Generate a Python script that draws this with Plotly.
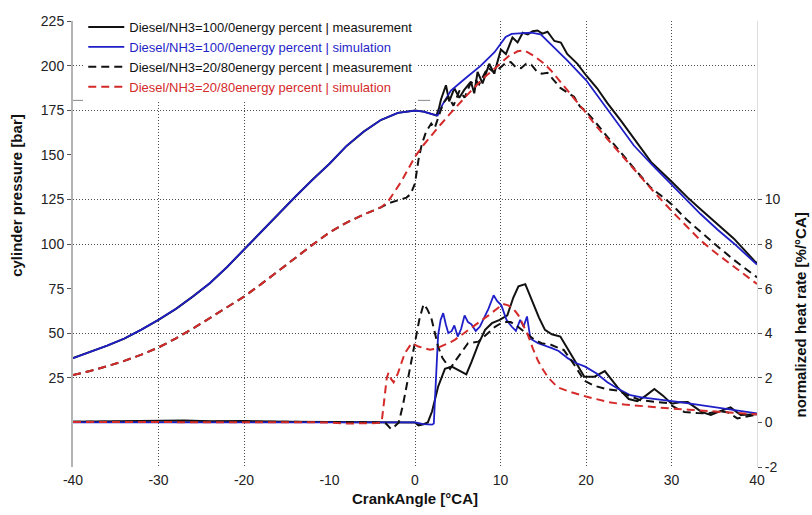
import plotly.graph_objects as go

# ---------------- data ----------------
x_ticks = [-40, -30, -20, -10, 0, 10, 20, 30, 40]
x_tick_labels = ["-40", "-30", "-20", "-10", "0", "10", "20", "30", "40"]
p_ticks = [25, 50, 75, 100, 125, 150, 175, 200, 225]
hr_ticks = [-2, 0, 2, 4, 6, 8, 10]
hr_tick_labels = ["-2", "0", "2", "4", "6", "8", "10"]
x_grid = [-30, -20, 0, 10, 20, 30]
p_grid = [25, 50, 100, 125, 175, 200]

names = [
    "Diesel/NH3=100/0energy percent | measurement",
    "Diesel/NH3=100/0energy percent | simulation",
    "Diesel/NH3=20/80energy percent | measurement",
    "Diesel/NH3=20/80energy percent | simulation",
]

# cylinder pressure [bar]
ca_p100_meas = [-40, -38, -36, -34, -32, -30, -28, -26, -24, -22, -20, -18, -16, -14, -12, -10, -8, -6, -4, -2, 0, 1, 2, 2.5,
                2.8, 3.04, 3.62, 4.0, 4.6, 5.18, 5.76, 6.54, 6.93, 7.32, 7.9, 8.68, 9.26, 10.05, 10.63, 11.4, 12.0, 12.6,
                13.2, 13.75, 14.33, 14.9, 15.5, 16.3, 17.06, 17.8, 19.0, 20.0, 21.3, 22.5, 24.1, 25.6, 27.6, 30.0, 31.9,
                33.4, 35.4, 37.3, 39.8, 40]
p100_meas = [36, 39.5, 43, 47, 52, 57.5, 63.5, 70.5, 78, 87, 97, 107, 117, 126.5, 136, 145, 155, 163, 169.5, 173.5, 174.8, 174.2, 172.8, 172,
             176, 181, 189, 180, 187.3, 182, 186.4, 191, 184.5, 196.4, 190, 201, 195.5, 209, 206.5, 215.7, 213, 218.4,
             217.5, 219.3, 219.7, 217.9, 219, 213.8, 212.9, 206.5, 201, 194.6, 187.3, 179, 169, 158.9, 146, 135, 126,
             119.5, 111.3, 103, 90, 89.3]

ca_p100_sim = [-40, -38, -36, -34, -32, -30, -28, -26, -24, -22, -20, -18, -16, -14, -12, -10, -8, -6, -4, -2, 0, 1, 2, 2.5,
               2.65, 3.2, 4.2, 5.8, 7.7, 9.3, 10.0, 10.6, 11.3, 12.5, 13.6, 14.7, 15.9, 17.8, 20.0, 22.5, 25.6, 27.8,
               30.0, 33.4, 35.4, 37.3, 39.8, 40]
p100_sim = [36, 39.5, 43, 47, 52, 57.5, 63.5, 70.5, 78, 87, 97, 107, 117, 126.5, 136, 145, 155, 163, 169.5, 173.5, 174.8, 174.2, 172.8, 172,
            172, 178, 186, 192.5, 200, 207.5, 212, 216, 217.8, 218.3, 218.5, 217.5, 212, 202.9, 191.9, 175.4, 155.2, 144,
            133.2, 116.8, 108, 100.3, 89.3, 88.5]

ca_p2080_meas = [-40, -38, -36, -34, -32, -30, -28, -26, -24, -22, -20, -18, -16, -14, -12, -10, -8, -6, -4, -3, -2, -1,
                 -0.5, 0, 0.4, 0.8, 1.3, 1.9, 2.3, 2.7, 3.3, 3.9, 4.5, 5.2, 5.8, 6.4, 7.0, 7.5, 8.5, 9.3, 10.0, 10.6, 11.2,
                 11.8, 12.4, 13.0, 13.6, 14.2, 14.8, 15.5, 16.2, 17.0, 17.8, 18.6, 19.3, 20.0, 20.8, 21.7, 22.6, 23.7,
                 24.6, 25.6, 26.6, 27.6, 28.8, 30.0, 31.7, 33.4, 35.3, 37.3, 39.8, 40]
p2080_meas = [26.6, 28.8, 31.5, 34.5, 38, 42, 47, 52.5, 58.5, 64.5, 70.5, 77.5, 85, 92, 99.5, 106.5, 112, 116.5, 120.5, 123, 124.5, 126,
              128, 134, 147, 156, 163, 167.5, 165, 171, 179, 182.5, 177.5, 186, 182, 189, 192.5, 189.5, 199, 196, 199, 201.5, 202,
              199, 198.5, 201, 200.5, 197, 195.5, 196, 192, 187.5, 185, 182.5, 177, 174.5, 170, 164.5, 159.5, 153.5,
              148, 142.5, 137, 131.5, 127, 122.3, 114, 106.7, 99, 91.1, 82, 81.3]

ca_p2080_sim = [-40, -38, -36, -34, -32, -30, -28, -26, -24, -22, -20, -18, -16, -14, -12, -10, -8, -6, -4,
                -3.2, -2.4, -1.6, -0.8, 0, 1, 2, 3, 4, 5, 6, 7, 8, 9, 10, 11, 12, 12.8, 13.9, 15, 15.9, 17, 17.8, 19,
                20, 21.2, 22.5, 24, 25.6, 27.8, 30, 31.7, 33.4, 35.3, 37.3, 39.8, 40]
p2080_sim = [26.6, 28.8, 31.5, 34.5, 38, 42, 47, 52.5, 58.5, 64.5, 70.5, 77.5, 85, 92, 99.5, 106.5, 112, 116.5, 120.5,
             123.5, 129, 135, 142, 149, 155.5, 161.5, 167, 172.5, 178, 183, 188, 193, 197, 201.5, 205.5, 208, 208.5, 205.5, 201.5, 197.3, 191, 186.3, 179.5,
             173.5, 166, 158.9, 150.5, 142.4, 130, 118.6, 110, 102, 94.5, 87.5, 78.3, 77.6]

# normalized heat rate [%/°CA]
ca_hr100_meas = [-40, -35, -30, -27, -24, -20, -15, -10, -5, 0, 0.4, 1.0, 1.5, 2.0, 2.7, 3.5, 4.3, 5.0, 6.0, 6.6, 7.4, 8.2,
                 9.0, 9.9, 10.8, 11.5, 12.1, 12.9, 13.8, 14.5, 15.2, 16.0, 17.0, 17.9, 18.8, 19.8, 21.0, 22.2, 23.7, 25.0,
                 26.0, 27.0, 28.0, 29.0, 30.0, 31.0, 31.9, 33.5, 34.6, 36.0, 36.9, 38.1, 39.6, 40]
hr100_meas = [0.03, 0.04, 0.06, 0.08, 0.05, 0.06, 0.03, 0.03, 0.02, 0.0, -0.13, -0.08, 0.0, 0.5, 1.6, 2.4, 2.5, 2.35, 2.15, 2.7, 3.5, 4.15,
              4.45, 4.6, 4.8, 5.6, 6.1, 6.2, 5.35, 4.7, 4.15, 3.95, 3.85, 3.3, 2.7, 2.05, 2.05, 2.3, 1.57, 1.05,
              0.95, 1.2, 1.5, 1.2, 0.84, 0.9, 0.91, 0.47, 0.33, 0.55, 0.67, 0.33, 0.33, 0.36]

ca_hr100_sim = [-40, -30, -20, -10, -5, 0, 1.0, 2.0, 2.2, 2.4, 2.7, 3.0, 3.3, 3.6, 3.9, 4.3, 4.6, 5.0, 5.4, 5.8, 6.2, 6.6,
                7.1, 7.6, 8.1, 8.6, 9.2, 9.6, 10.1, 10.7, 11.3, 11.8, 12.3, 12.7, 13.1, 13.5, 14.4, 15.2, 16.0, 16.8,
                17.9, 18.9, 19.9, 21.2, 22.5, 23.8, 25.2, 26.5, 28.0, 29.5, 31.0, 32.6, 34.2, 35.8, 37.3, 38.5, 40.0]
hr100_sim = [0.0, 0.0, 0.0, 0.0, 0.0, 0.0, -0.08, -0.1, -0.05, 1.8, 3.9, 4.6, 4.9, 4.4, 4.0, 4.1, 4.35, 3.85, 4.2, 4.8, 4.5, 4.4,
             4.1, 4.3, 4.7, 5.1, 5.7, 5.45, 5.25, 4.6, 4.3, 4.1, 4.6, 4.3, 4.75, 3.75, 3.55, 3.45, 3.33, 3.2,
             2.87, 2.65, 2.5, 2.2, 1.8, 1.5, 1.22, 1.12, 1.06, 0.98, 0.91, 0.82, 0.73, 0.65, 0.58, 0.48, 0.4]

ca_hr2080_meas = [-40, -30, -20, -10, -4, -3.4, -2.8, -2.3, -1.9, -1.4, -1.0, -0.5, -0.1, 0.5, 1.0, 1.4, 1.9, 2.3, 2.7,
                  3.2, 3.7, 4.1, 4.6, 5.2, 6.2, 7.4, 8.5, 9.4, 10.3, 11.2, 12.0, 12.8, 14.0, 14.8, 15.9, 17.0, 17.4,
                  18.6, 19.8, 20.9, 22.3, 23.7, 25.0, 26.4, 28.0, 29.5, 30.5, 31.5, 33.0, 34.2, 35.5, 36.6, 37.7, 38.6,
                  39.6, 40.0]
hr2080_meas = [0.03, 0.04, 0.03, 0.02, 0.0, -0.05, -0.3, -0.15, 0.0, 0.8, 1.6, 2.7, 3.5, 4.6, 5.3, 5.1, 4.7, 4.0, 3.4,
               2.9, 2.6, 2.4, 2.7, 3.0, 3.55, 3.62, 4.0, 4.3, 4.5, 4.5, 4.3, 4.05, 3.7, 3.55, 3.48, 3.3, 3.25,
               2.6, 1.87, 1.65, 1.5, 1.43, 1.2, 0.99, 0.92, 0.87, 0.65, 0.47, 0.42, 0.4, 0.5, 0.45, 0.18, 0.25,
               0.33, 0.35]

ca_hr2080_sim = [-40, -30, -20, -10, -8, -6, -4.5, -3.9, -3.6, -3.3, -3.1, -2.8, -2.5, -2.0, -1.2, -0.4, 0.4, 1.0, 1.75,
                 2.4, 3.1, 3.9, 4.65, 5.4, 6.2, 7.0, 7.8, 8.6, 9.3, 10.3, 10.9, 11.5, 12.1, 12.6, 13.2, 13.8, 14.4,
                 15.0, 15.6, 16.7, 18.3, 20.0, 22.5, 24.5, 26.4, 28.2, 30.0, 32.0, 34.2, 36.5, 38.5, 40.0]
hr2080_sim = [0.02, 0.02, 0.02, 0.0, -0.05, -0.05, -0.03, 0.0, 1.0, 2.0, 2.23, 1.95, 1.8, 2.2, 3.1, 3.55, 3.4, 3.35, 3.26,
              3.3, 3.4, 3.55, 3.7, 3.9, 4.14, 4.35, 4.58, 4.8, 5.02, 5.31, 5.25, 5.1, 4.8, 4.4, 3.92, 3.3, 2.75,
              2.35, 2.0, 1.57, 1.35, 1.16, 0.92, 0.8, 0.73, 0.66, 0.62, 0.57, 0.52, 0.45, 0.4, 0.36]

# ---------------- styling ----------------
FONT = "Liberation Sans, Arial, sans-serif"
BLACK = "#111111"
BLUE = "#1f1fc8"
RED = "#d42a2a"
DASH = "8px,5px"
GRID = "#4a4a4a"

series = [
    (ca_p100_meas, p100_meas, ca_hr100_meas, hr100_meas, BLACK, "solid", names[0], 2.0),
    (ca_p100_sim, p100_sim, ca_hr100_sim, hr100_sim, BLUE, "solid", names[1], 1.8),
    (ca_p2080_meas, p2080_meas, ca_hr2080_meas, hr2080_meas, BLACK, DASH, names[2], 2.0),
    (ca_p2080_sim, p2080_sim, ca_hr2080_sim, hr2080_sim, RED, DASH, names[3], 2.0),
]

fig = go.Figure()
for i, (cx, cy, hx, hy, col, dash, nm, w) in enumerate(series):
    label = nm if col == BLACK else f"<span style='color:{col}'>{nm}</span>"
    fig.add_trace(go.Scatter(x=cx, y=cy, mode="lines", name=label, legendgroup=str(i),
                             line=dict(color=col, width=w, dash=dash), yaxis="y"))
for i, (cx, cy, hx, hy, col, dash, nm, w) in enumerate(series):
    fig.add_trace(go.Scatter(x=hx, y=hy, mode="lines", name=nm, legendgroup=str(i), showlegend=False,
                             line=dict(color=col, width=w, dash=dash), yaxis="y2"))

tickfont = dict(family=FONT, size=14, color="#222222")
titlefont = dict(family=FONT, size=15, color="#111111")

fig.update_layout(
    width=812, height=515,
    margin=dict(l=73, r=55, t=13, b=48),
    paper_bgcolor="white", plot_bgcolor="white",
    font=dict(family=FONT, size=13, color="#111111"),
    xaxis=dict(range=[-40, 40], tickmode="array", tickvals=x_ticks, ticktext=x_tick_labels,
               showgrid=False, zeroline=False, showline=False,
               ticks="outside", ticklen=0, tickfont=tickfont,
               minor=dict(tickmode="array", tickvals=x_grid, ticks="inside", ticklen=0,
                          showgrid=True, gridcolor=GRID, griddash="1px,2px", gridwidth=1),
               title=dict(text="<b>CrankAngle [°CA]</b>", font=titlefont, standoff=6)),
    yaxis=dict(range=[-25, 225], tickmode="array", tickvals=p_ticks, showgrid=False, zeroline=False,
               showline=True, linecolor="#b4b4b4", linewidth=2, ticks="outside", ticklen=4,
               tickcolor="#555555", tickfont=tickfont,
               minor=dict(tickmode="array", tickvals=p_grid, ticks="inside", ticklen=0,
                          showgrid=True, gridcolor=GRID, griddash="1px,2px", gridwidth=1)),
    yaxis2=dict(range=[-2, 18], tickmode="array", tickvals=hr_ticks, ticktext=hr_tick_labels,
                overlaying="y", side="right", showgrid=False,
                zeroline=False, showline=True, linecolor="#dddddd", linewidth=1, ticks="outside",
                ticklen=4, tickcolor="#555555", tickfont=tickfont),
    legend=dict(x=0.015, y=1.02, xanchor="left", yanchor="top", bgcolor="white", borderwidth=0,
                font=dict(family=FONT, size=13, color="#111111"), itemwidth=36, tracegroupgap=0),
    showlegend=True,
    annotations=[
        dict(text="<b>cylinder pressure [bar]</b>", xref="paper", yref="paper", x=-0.082, y=0.61,
             textangle=-90, showarrow=False, font=titlefont, xanchor="center", yanchor="middle"),
        dict(text="<b>normalized heat rate [%/°CA]</b>", xref="paper", yref="paper", x=1.063, y=0.34,
             textangle=-90, showarrow=False, font=titlefont, xanchor="center", yanchor="middle"),
    ],
    shapes=[
        dict(type="line", xref="paper", yref="paper", x0=0.0, x1=0.522, y0=0.822, y1=0.822,
             line=dict(color="#888888", width=1)),
    ],
)

fig.write_html("out.html")
